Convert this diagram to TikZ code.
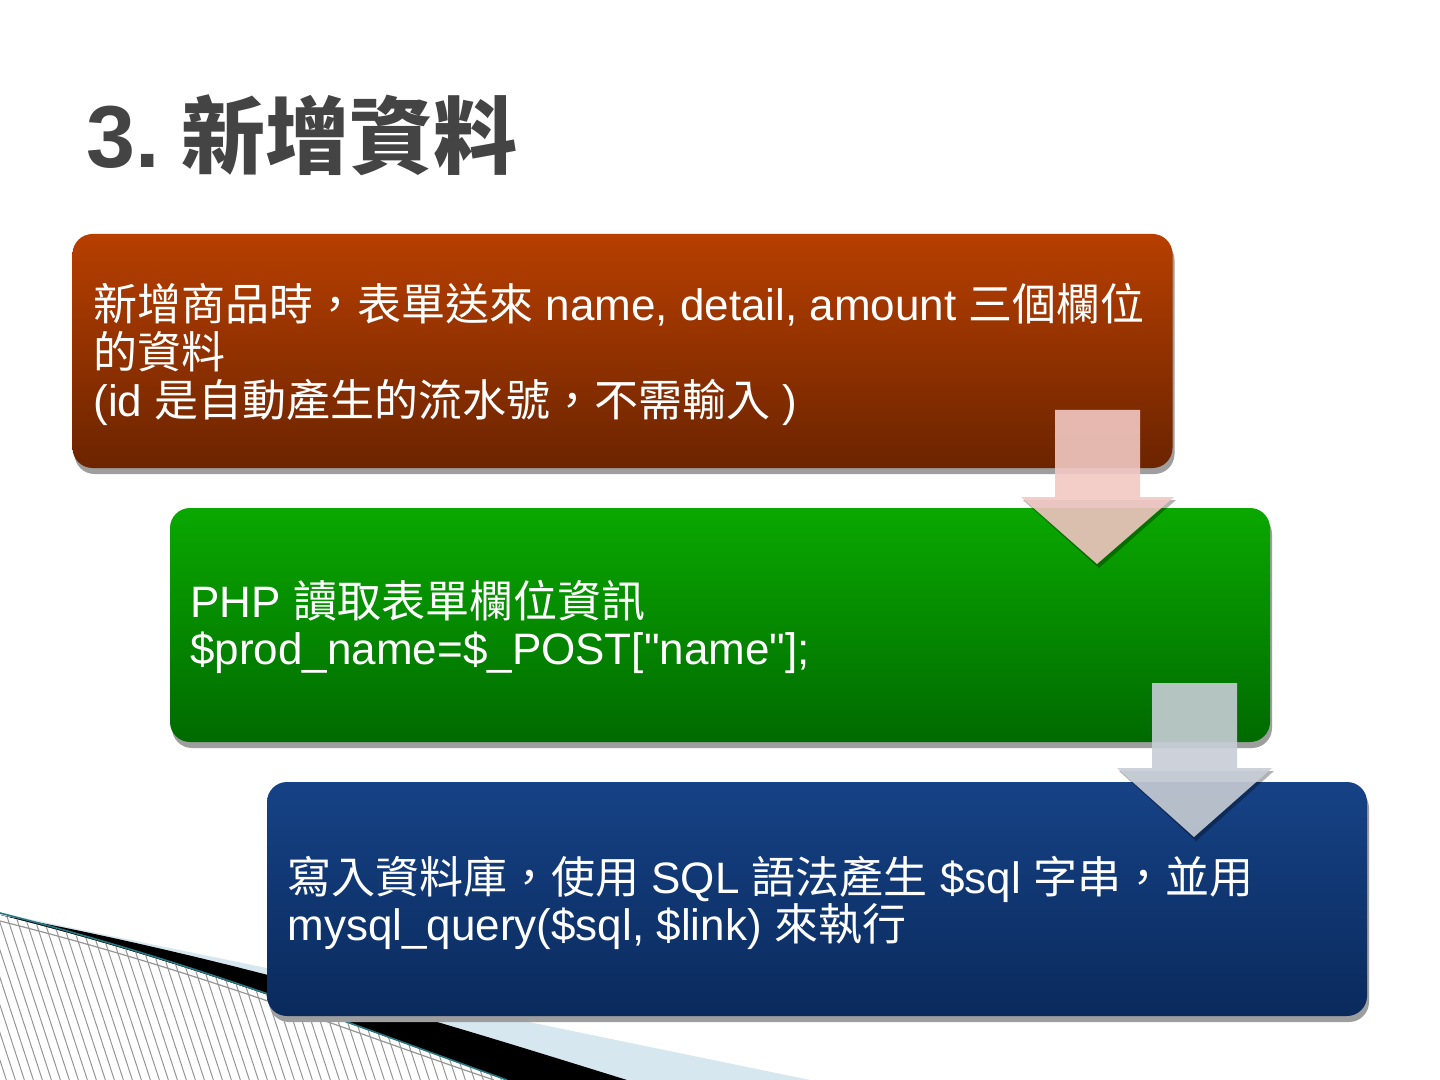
\documentclass[tikz,border=0pt]{standalone}
\usepackage{fontspec}
\setmainfont{Liberation Sans}
\newfontfamily\rawfont{Liberation Sans}
\newfontfamily\cjk{Noto Sans CJK TC}
\usetikzlibrary{shadows}
\definecolor{titlegray}{RGB}{68,68,68}
\definecolor{decoblue}{RGB}{214,231,239}
\definecolor{decoteal}{RGB}{40,120,130}
\definecolor{hatchgray}{RGB}{150,150,150}
\definecolor{shadowgray}{RGB}{158,158,158}
\definecolor{browntop}{RGB}{183,63,0}
\definecolor{brownbot}{RGB}{108,36,0}
\definecolor{greentop}{RGB}{10,168,0}
\definecolor{greenbot}{RGB}{0,106,0}
\definecolor{bluetop}{RGB}{22,66,134}
\definecolor{bluebot}{RGB}{10,42,92}
\definecolor{pinkarrow}{RGB}{242,200,195}
\definecolor{grayarrow}{RGB}{200,206,214}
\tikzset{
  stepbox/.style={rectangle, rounded corners=10pt, minimum width=550pt, minimum height=117pt,
    inner sep=0pt, draw=none,
    drop shadow={shadow xshift=1pt, shadow yshift=-3pt, fill=shadowgray, opacity=1}},
  line/.style={anchor=base west, inner sep=0pt, text=white, font=\fontsize{22}{26}\selectfont},
  hatch/.style={hatchgray, line width=0.5pt},
}
\begin{document}
\begin{tikzpicture}[x=0.5pt,y=-0.5pt]
\useasboundingbox (0,0) rectangle (1440,1080);
\fill[white] (0,0) rectangle (1440,1080);
% decoration bottom-left
\fill[decoblue] (0,913) -- (810,1080) -- (0,1080) -- cycle;
\fill[black] (0,915) .. controls (250,962) and (450,1025) .. (627,1080) -- (0,1080) -- cycle;
\fill[white] (0,915) .. controls (200,965) and (350,1025) .. (507,1080) -- (0,1080) -- cycle;
\begin{scope}
  \clip (0,915) .. controls (200,965) and (350,1025) .. (507,1080) -- (0,1080) -- cycle;
  \foreach \i in {-10,...,65} \draw[hatch] ({\i*9},895) -- ({\i*9+62},1085);
\end{scope}
\draw[decoteal, line width=0.8pt] (0,913) .. controls (200,964) and (350,1024) .. (507,1080);
\draw[hatchgray, line width=0.6pt] (0,921) .. controls (200,971) and (345,1030) .. (494,1080);
% title
\node[anchor=base west, inner sep=0pt, text=titlegray] (title) at (86,168)
  {\fontsize{44}{50}\selectfont\bfseries 3.\hspace{11pt}{\fontsize{42}{50}\selectfont\cjk\bfseries 新增資料}};
% boxes
\node[stepbox, top color=browntop, bottom color=brownbot] (b1) at (622.5,351) {};
\node[stepbox, top color=greentop, bottom color=greenbot] (b2) at (720,625) {};
% arrow 1
\fill[black, opacity=0.3] (1023,500) -- (1176,500) -- (1099,568) -- cycle;
\fill[pinkarrow, opacity=0.9] (1055,410) -- (1140,410) -- (1140,497) -- (1174,497) -- (1097,564) -- (1021,497) -- (1055,497) -- cycle;
\node[stepbox, top color=bluetop, bottom color=bluebot] (b3) at (817,899) {};
% arrow 2
\fill[black, opacity=0.3] (1119,771) -- (1274,771) -- (1196,841) -- cycle;
\fill[grayarrow, opacity=0.9] (1152,683) -- (1237,683) -- (1237,768) -- (1272,768) -- (1194,837) -- (1117,768) -- (1152,768) -- cycle;
% texts
\node[line] (t11) at (93,321) {{\cjk 新增商品時，表單送來} name, detail, amount {\cjk 三個欄位}};
\node[line] (t12) at (93,368.5) {{\cjk 的資料}};
\node[line] (t13) at (93,416) {(id {\cjk 是自動產生的流水號，不需輸入} )};
\node[line] (t21) at (190,617) {PHP {\cjk 讀取表單欄位資訊}};
\node[line] (t22) at (190,664.5) {\$prod\_name=\$\_POST[{\rawfont"}name{\rawfont"}];};
\node[line] (t31) at (287,893) {{\cjk 寫入資料庫，使用} SQL {\cjk 語法產生} \$sql {\cjk 字串，並用}};
\node[line] (t32) at (287,940.5) {mysql\_query(\$sql, \$link) {\cjk 來執行}};
\end{tikzpicture}
\end{document}
